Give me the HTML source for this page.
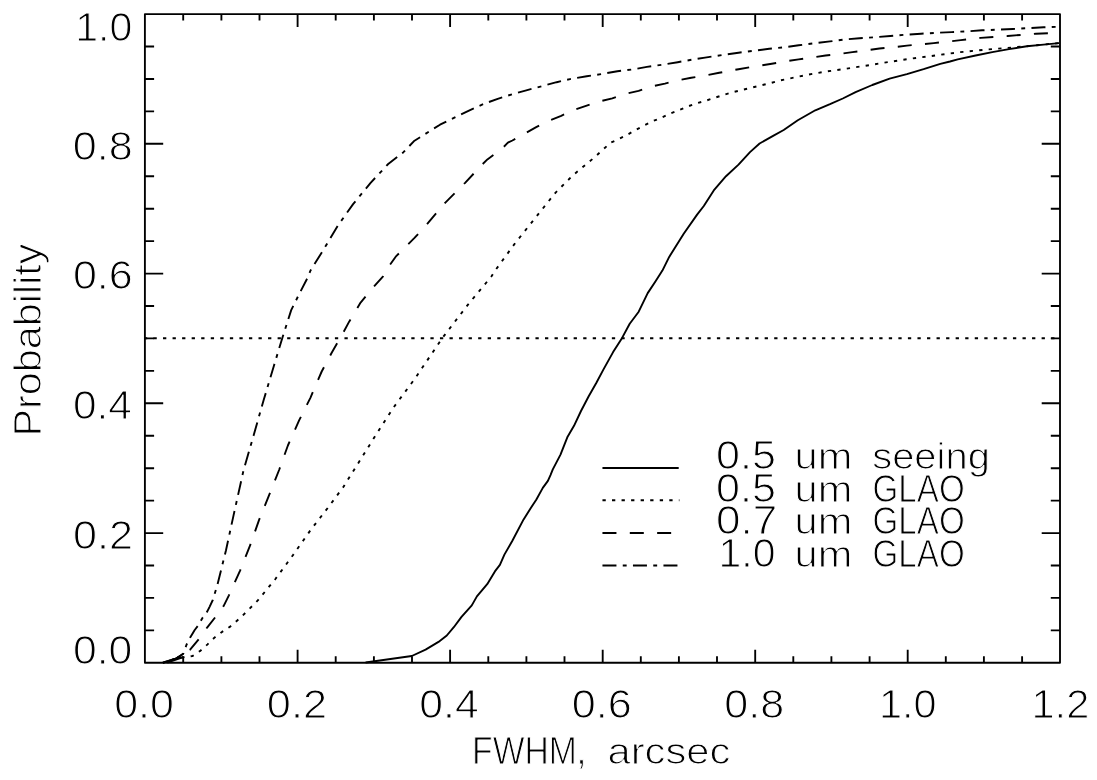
<!DOCTYPE html>
<html lang="en"><head><meta charset="utf-8"><title>FWHM cumulative probability</title>
<style>html,body{margin:0;padding:0;background:#fff}svg{display:block}text{font-family:"Liberation Sans",sans-serif;fill:#000;stroke:#fff;stroke-width:1.05;stroke-linejoin:round}.ax{stroke:#000;stroke-width:1.87;fill:none;stroke-linecap:butt;stroke-linejoin:round}.cv{stroke:#000;stroke-width:1.9;fill:none;stroke-linejoin:round}.lg{stroke-width:1.87}.dot{stroke-dasharray:3.3 6.25}.dash{stroke-dasharray:14 13.35}.dd{stroke-dasharray:14 6.3 3.9 6.3}</style></head><body>
<svg width="1097" height="780" viewBox="0 0 1097 780">
<rect width="1097" height="780" fill="#fff"/>
<text transform="translate(75.23,41.00) scale(1.0261,1)" font-size="40">1.0</text>
<text transform="translate(72.86,160.00) scale(1.0778,1)" font-size="40">0.8</text>
<text transform="translate(72.88,289.00) scale(1.0763,1)" font-size="40">0.6</text>
<text transform="translate(73.00,419.00) scale(1.0598,1)" font-size="40">0.4</text>
<text transform="translate(73.08,549.00) scale(1.0788,1)" font-size="40">0.2</text>
<text transform="translate(72.93,664.00) scale(1.0673,1)" font-size="40">0.0</text>
<text transform="translate(114.18,718.00) scale(1.0757,1)" font-size="40">0.0</text>
<text transform="translate(266.79,718.00) scale(1.0840,1)" font-size="40">0.2</text>
<text transform="translate(419.28,718.00) scale(1.0683,1)" font-size="40">0.4</text>
<text transform="translate(571.82,718.00) scale(1.0788,1)" font-size="40">0.6</text>
<text transform="translate(724.37,718.00) scale(1.0778,1)" font-size="40">0.8</text>
<text transform="translate(879.04,718.00) scale(1.0351,1)" font-size="40">1.0</text>
<text transform="translate(1031.47,718.00) scale(1.0404,1)" font-size="40">1.2</text>
<text transform="translate(716.00,469.00) scale(1.0772,1)" font-size="40">0.5</text>
<text transform="translate(794.59,469.00) scale(1.1066,1)" font-size="37.6">um</text>
<text transform="translate(872.17,469.00) scale(1.0624,1)" font-size="37.6">seeing</text>
<text transform="translate(716.00,502.00) scale(1.0772,1)" font-size="40">0.5</text>
<text transform="translate(794.59,502.00) scale(1.1066,1)" font-size="37.6">um</text>
<text transform="translate(872.58,502.00) scale(0.8457,1)" font-size="39.2">GLAO</text>
<text transform="translate(715.96,534.00) scale(1.1002,1)" font-size="40">0.7</text>
<text transform="translate(794.59,534.00) scale(1.1066,1)" font-size="37.6">um</text>
<text transform="translate(872.58,534.00) scale(0.8457,1)" font-size="39.2">GLAO</text>
<text transform="translate(718.59,567.00) scale(1.0236,1)" font-size="40">1.0</text>
<text transform="translate(794.59,567.00) scale(1.1066,1)" font-size="37.6">um</text>
<text transform="translate(872.58,567.00) scale(0.8457,1)" font-size="39.2">GLAO</text>
<text transform="translate(472.11,764.00) scale(0.8602,1)" font-size="39.2">FWHM</text>
<text transform="translate(576.07,764.00)" font-size="39.2">,</text>
<text transform="translate(607.50,764.00) scale(1.1109,1)" font-size="37.6">arcsec</text>
<text transform="translate(41.30,436.45) rotate(-90) scale(1.0597,1)" font-size="39">Probability</text>
<rect class="ax" x="144.9" y="14.1" width="915.1" height="648.7"/>
<path class="ax" d="M183.2 662.8v-6.5M183.2 14.1v6.5M221.4 662.8v-6.5M221.4 14.1v6.5M259.5 662.8v-6.5M259.5 14.1v6.5M297.6 662.8v-13.0M297.6 14.1v13.0M335.7 662.8v-6.5M335.7 14.1v6.5M373.9 662.8v-6.5M373.9 14.1v6.5M412.0 662.8v-6.5M412.0 14.1v6.5M450.1 662.8v-13.0M450.1 14.1v13.0M488.3 662.8v-6.5M488.3 14.1v6.5M526.4 662.8v-6.5M526.4 14.1v6.5M564.5 662.8v-6.5M564.5 14.1v6.5M602.7 662.8v-13.0M602.7 14.1v13.0M640.8 662.8v-6.5M640.8 14.1v6.5M678.9 662.8v-6.5M678.9 14.1v6.5M717.0 662.8v-6.5M717.0 14.1v6.5M755.2 662.8v-13.0M755.2 14.1v13.0M793.3 662.8v-6.5M793.3 14.1v6.5M831.4 662.8v-6.5M831.4 14.1v6.5M869.6 662.8v-6.5M869.6 14.1v6.5M907.7 662.8v-13.0M907.7 14.1v13.0M945.8 662.8v-6.5M945.8 14.1v6.5M983.9 662.8v-6.5M983.9 14.1v6.5M1022.1 662.8v-6.5M1022.1 14.1v6.5M144.9 630.4h9.2M1060.0 630.4h-9.2M144.9 597.9h9.2M1060.0 597.9h-9.2M144.9 565.5h9.2M1060.0 565.5h-9.2M144.9 533.1h18.3M1060.0 533.1h-18.3M144.9 500.6h9.2M1060.0 500.6h-9.2M144.9 468.2h9.2M1060.0 468.2h-9.2M144.9 435.8h9.2M1060.0 435.8h-9.2M144.9 403.3h18.3M1060.0 403.3h-18.3M144.9 370.9h9.2M1060.0 370.9h-9.2M144.9 338.4h9.2M1060.0 338.4h-9.2M144.9 306.0h9.2M1060.0 306.0h-9.2M144.9 273.6h18.3M1060.0 273.6h-18.3M144.9 241.1h9.2M1060.0 241.1h-9.2M144.9 208.7h9.2M1060.0 208.7h-9.2M144.9 176.3h9.2M1060.0 176.3h-9.2M144.9 143.8h18.3M1060.0 143.8h-18.3M144.9 111.4h9.2M1060.0 111.4h-9.2M144.9 79.0h9.2M1060.0 79.0h-9.2M144.9 46.5h9.2M1060.0 46.5h-9.2"/>
<path class="cv dot lg" stroke-dashoffset="1" d="M144.90 338.30H1060.00"/>
<polyline class="cv" points="365.6,662.5 411.8,656.0 425.6,649.6 438.5,641.9 446.8,635.5 453.8,627.2 461.5,616.9 471.8,605.4 476.9,596.4 487.2,584.2 494.9,571.4 499.9,564.9 504.4,554.6 512.1,541.2 523.6,519.4 531.3,507.2 536.4,499.5 542.8,487.9 547.9,480.9 550.5,475.1 552.8,469.4 560.5,454.6 567.6,436.7 574.0,425.8 581.0,411.0 588.7,396.3 596.4,382.8 603.5,369.4 613.1,352.1 622.1,337.9 629.7,323.8 638.7,311.7 647.7,293.1 655.4,281.5 662.4,270.6 669.2,256.9 683.7,233.8 697.1,214.6 703.8,206.0 714.4,189.6 726.0,176.2 738.5,164.6 750.0,152.1 759.6,143.5 773.1,135.8 783.7,130.0 797.8,120.3 815.3,110.3 830.0,104.2 842.8,98.5 855.6,92.1 872.3,85.0 889.6,78.6 906.9,74.1 923.6,69.2 940.3,63.8 950.0,61.5 957.7,59.4 975.6,55.5 992.3,52.1 1009.0,49.1 1026.9,46.3 1043.6,44.6 1059.0,43.1"/>
<polyline class="cv dot" points="162.8,662.8 176.5,658.8 186.4,656.8 192.4,656.1 200.6,650.6 207.5,644.4 214.7,637.4 222.0,631.9 230.2,626.6 240.3,617.9 257.8,600.4 275.4,579.0 292.9,555.2 310.5,530.2 328.0,507.6 343.0,487.5 356.8,465.5 375.6,435.4 393.2,407.9 415.0,378.5 442.6,337.7 467.6,305.1 491.5,276.3 495.2,270.5 515.3,242.9 535.3,217.9 555.4,192.8 572.9,175.3 595.5,156.5 610.5,142.7 618.1,139.4 627.1,134.9 635.4,130.1 644.4,125.3 652.7,121.2 661.7,117.6 670.0,113.7 679.0,110.1 687.9,106.4 696.9,103.2 705.5,100.8 714.7,97.8 724.4,94.6 733.3,92.1 742.9,89.7 751.9,87.6 760.9,85.4 770.5,83.1 779.5,80.5 789.1,78.6 798.1,76.7 807.7,74.7 816.7,73.1 826.3,71.5 835.5,70.2 844.7,69.0 854.4,67.4 864.0,66.0 873.6,64.5 882.6,62.9 892.2,61.5 901.8,60.0 910.8,58.7 920.4,57.4 930.0,56.2 939.6,54.9 949.2,53.6 958.8,52.3 969.1,51.3 987.2,49.5 1005.1,48.1 1015.4,47.2 1030.0,45.9 1059.0,43.1"/>
<polyline class="cv dash" stroke-dashoffset="-2.6" points="162.8,662.8 176.5,658.3 183.3,653.8 190.1,649.7 199.5,638.3 207.3,627.3 215.9,616.4 223.7,605.9 228.9,595.3 240.2,570.3 250.2,545.2 259.0,520.1 269.1,495.1 279.1,470.0 287.9,445.5 299.1,420.4 310.4,397.8 321.7,371.5 331.7,352.7 341.8,335.2 349.3,321.4 360.6,302.6 373.1,287.5 383.1,276.3 389.4,265.5 395.7,256.7 414.5,237.9 425.0,226.6 445.1,202.8 465.1,182.8 482.7,164.0 487.4,159.4 502.2,148.5 507.9,142.7 512.4,140.5 524.6,133.7 536.2,127.1 548.3,120.9 561.2,115.8 573.8,110.1 586.7,105.6 599.5,101.5 612.3,98.3 625.8,93.8 638.6,90.9 652.1,86.4 664.9,83.6 678.3,80.3 691.2,77.8 705.1,75.6 719.2,72.8 738.5,69.2 759.0,65.8 771.8,63.8 785.9,61.3 798.7,59.4 812.8,57.4 825.6,55.5 839.6,54.0 852.4,52.1 866.5,50.4 879.4,48.5 893.5,47.2 906.9,45.6 920.4,44.4 933.8,43.1 947.3,41.7 960.8,40.1 980.8,37.9 1007.7,36.0 1035.9,33.7 1059.0,32.8"/>
<polyline class="cv dd" stroke-dashoffset="-9.4" points="162.8,662.8 176.5,658.3 183.3,653.8 186.5,644.7 190.5,636.9 194.7,630.0 198.2,625.5 202.3,618.2 207.3,611.4 209.7,606.6 212.8,600.0 217.3,585.3 226.0,550.2 233.6,515.1 243.6,470.0 253.6,435.4 263.6,400.3 273.7,366.5 282.4,337.7 291.2,310.1 298.7,295.1 308.3,276.3 310.5,270.5 323.0,250.5 338.0,225.4 353.1,204.1 370.6,182.8 388.2,164.0 403.2,152.4 414.5,140.7 440.0,124.7 455.4,117.1 469.5,110.4 483.6,104.0 497.7,98.8 512.4,94.2 527.2,90.1 542.6,86.0 556.7,82.2 570.0,79.1 586.7,76.2 602.1,74.0 617.4,71.2 632.2,69.5 646.9,66.9 662.3,64.7 677.7,62.2 692.4,59.6 705.0,57.6 723.1,54.9 738.5,52.7 754.9,50.6 769.2,48.8 784.6,47.2 798.7,45.3 814.1,43.3 830.0,41.4 844.1,39.5 859.5,38.2 874.9,37.2 890.3,36.0 905.6,34.7 921.0,33.7 936.4,32.8 951.8,32.1 969.1,31.2 982.1,30.3 1012.8,29.0 1043.6,27.3 1059.0,26.7"/>
<path class="cv" d="M162.8 662.6L176.5 658.3L183.3 653.8M167.3 662.6L183.3 657"/>
<path class="cv lg" d="M602.45 468.00H678.71"/>
<path class="cv dot lg" d="M602.45 500.20H679.41"/>
<path class="cv dash lg" d="M602.45 533.00H678.71"/>
<path class="cv dd lg" d="M602.45 565.50H678.71"/>
</svg></body></html>
